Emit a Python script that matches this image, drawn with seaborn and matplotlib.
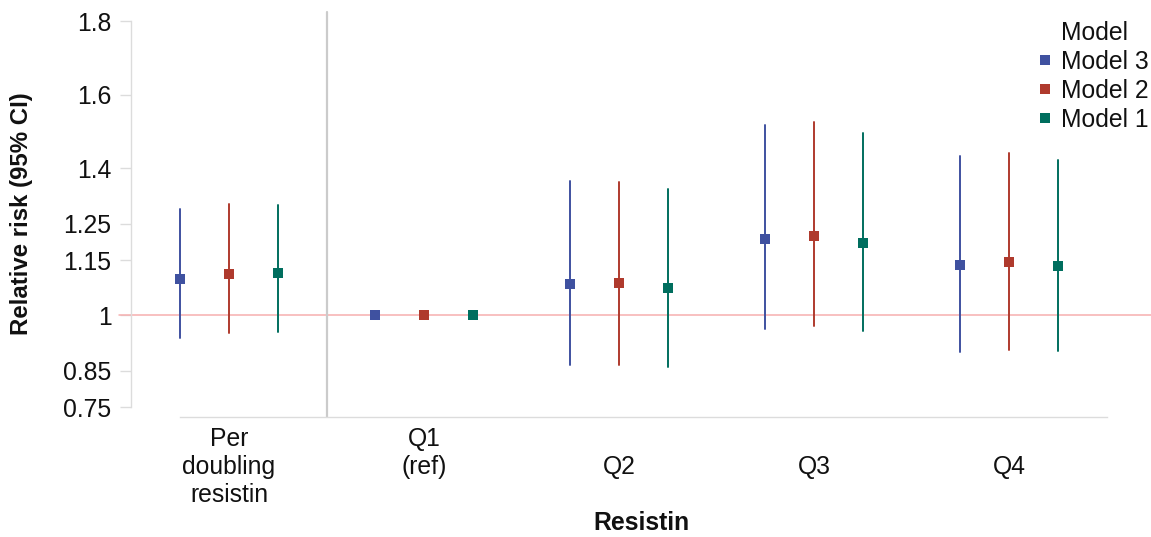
import numpy as np
import pandas as pd
import matplotlib
matplotlib.use("Agg")
import matplotlib.pyplot as plt
from matplotlib.lines import Line2D
import seaborn as sns

# ---- data ----
groups = ["Per\ndoubling\nresistin", "Q1\n(ref)\n ", "Q2", "Q3", "Q4"]
models = ["Model 3", "Model 2", "Model 1"]
colors = ["#3F51A0", "#AF3A2D", "#006E5E"]

est_m3 = [1.100, 1.000, 1.086, 1.209, 1.136]
est_m2 = [1.113, 1.000, 1.087, 1.217, 1.145]
est_m1 = [1.115, 1.000, 1.074, 1.197, 1.134]

lo_m3 = [0.939, 1.000, 0.864, 0.963, 0.900]
lo_m2 = [0.953, 1.000, 0.866, 0.970, 0.907]
lo_m1 = [0.955, 1.000, 0.859, 0.957, 0.903]

hi_m3 = [1.290, 1.000, 1.365, 1.517, 1.433]
hi_m2 = [1.302, 1.000, 1.363, 1.527, 1.443]
hi_m1 = [1.300, 1.000, 1.344, 1.497, 1.424]

yticks = [0.75, 0.85, 1, 1.15, 1.25, 1.4, 1.6, 1.8]
ytick_labels = ["0.75", "0.85", "1", "1.15", "1.25", "1.4", "1.6", "1.8"]

# long table: lo / est / hi rows per (group, model)
rows = []
for m, est, lo, hi in [("Model 3", est_m3, lo_m3, hi_m3),
                       ("Model 2", est_m2, lo_m2, hi_m2),
                       ("Model 1", est_m1, lo_m1, hi_m1)]:
    for g, e, l, h in zip(groups, est, lo, hi):
        for v in (l, e, h):
            rows.append({"group": g, "model": m, "value": v})
df = pd.DataFrame(rows)

sns.set_theme(style="white")
plt.rcParams["font.family"] = ["Liberation Sans", "DejaVu Sans"]

FS = 17.8
W, H = 1151, 537
fig = plt.figure(figsize=(W / 100, H / 100), dpi=100)
ax = fig.add_axes([131 / W, 1 - 417 / H, 1020 / W, 407 / H])

sns.pointplot(data=df, x="group", y="value", hue="model", order=groups,
              hue_order=models, palette=colors, estimator="median",
              errorbar=("pi", 100), dodge=0.5, markers="s", linestyles="none",
              markersize=7.2, markeredgewidth=0, err_kws={"linewidth": 1.4},
              legend=False, ax=ax, zorder=3)

ax.set_xlim(-0.5026, 4.728)
ax.set_ylim(0.7238, 1.831)

# reference line and separator
ax.axhline(1, color="#F6AFAF", lw=1.1, xmin=-0.012, xmax=1, clip_on=False, zorder=1)
ax.axvline(0.5, ymin=0, ymax=(417 - 12) / 407, color="#CBCBCB", lw=1.6, zorder=1)

# spines
for s in ["top", "right"]:
    ax.spines[s].set_visible(False)
ax.spines["left"].set_bounds(0.75, 1.8)
ax.spines["left"].set_color("#DCDCDC")
ax.spines["left"].set_linewidth(1.0)
ax.spines["bottom"].set_bounds(-0.25, 4.5)
ax.spines["bottom"].set_color("#DCDCDC")
ax.spines["bottom"].set_linewidth(1.0)

ax.set_yticks(yticks)
ax.set_yticklabels(ytick_labels)
ax.tick_params(axis="y", length=8, width=1, color="#DCDCDC", pad=6,
               labelsize=FS, labelcolor="#111111", left=True)
ax.tick_params(axis="x", length=0, pad=36, labelsize=FS, labelcolor="#111111")
for t in ax.get_xticklabels():
    t.set_va("center")
    t.set_linespacing(1.2)

ax.set_xlabel("Resistin", fontsize=FS, fontweight="bold", color="#111111", va="center")
ax.xaxis.set_label_coords(0.5, (417 - 523) / 407)
ax.set_ylabel("Relative risk (95% CI)", fontsize=FS - 0.5, fontweight="bold",
              color="#111111", va="center")
ax.yaxis.set_label_coords((22 - 131) / 1020, 0.5)

# legend
handles = [Line2D([], [], ls="none", marker=None)]
labels = ["Model"]
for m, c in zip(models, colors):
    handles.append(Line2D([], [], ls="none", marker="s", color=c, markersize=7.5, markeredgewidth=0))
    labels.append(m)
leg = fig.legend(handles, labels, loc="upper right",
                 bbox_to_anchor=(1149 / W, 1 - 21 / H), frameon=False,
                 fontsize=FS, borderpad=0, borderaxespad=0,
                 handlelength=0.55, handletextpad=0.4, labelspacing=0.2)
for t in leg.get_texts():
    t.set_color("#111111")

fig.savefig("out.png", dpi=100)
